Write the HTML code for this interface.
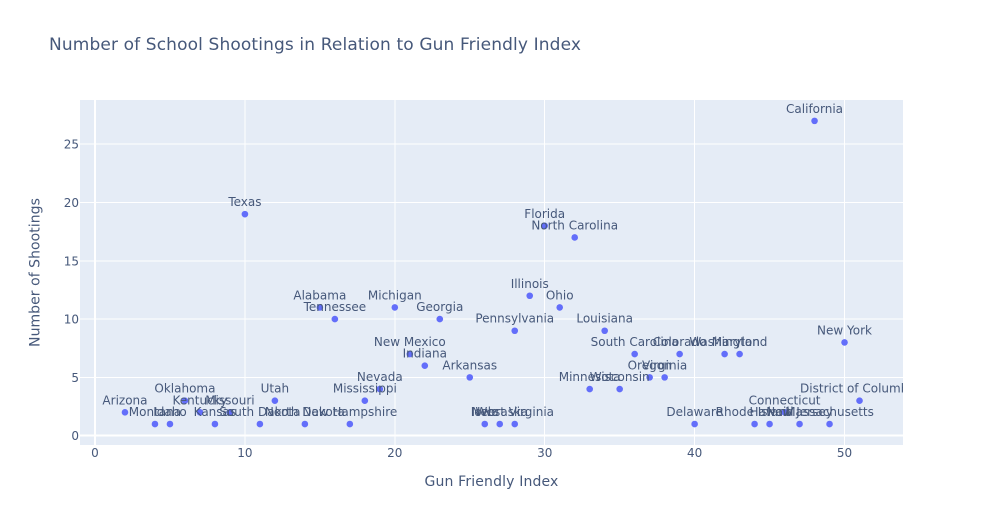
<!DOCTYPE html>
<html>
<head>
<meta charset="utf-8">
<title>Number of School Shootings in Relation to Gun Friendly Index</title>
<style>
html,body{margin:0;padding:0;background:#fff;width:983px;height:525px;overflow:hidden}
svg{display:block;font-family:"DejaVu Sans",Verdana,"Liberation Sans",sans-serif}
</style>
</head>
<body>
<svg id="chart" width="983" height="525" viewBox="0 0 983 525" xmlns="http://www.w3.org/2000/svg">
  <defs><clipPath id="plot-clip"><rect x="80" y="100" width="823" height="345"/></clipPath></defs>
  <rect x="0" y="0" width="983" height="525" fill="#fff"/>
  <rect x="80" y="100" width="823" height="345" fill="#e5ecf6"/>
  <g id="grid" shape-rendering="crispEdges"></g>
  <g id="points" clip-path="url(#plot-clip)"></g>
  <g id="labels" clip-path="url(#plot-clip)"></g>
  <g id="ticks"></g>
  <text x="49" y="50" font-size="17" letter-spacing="0.13" fill="#46587a">Number of School Shootings in Relation to Gun Friendly Index</text>
  <text x="491.5" y="486" font-size="14" letter-spacing="0.15" fill="#46587a" text-anchor="middle">Gun Friendly Index</text>
  <text x="39.5" y="272.5" font-size="14" letter-spacing="0.05" fill="#46587a" text-anchor="middle" transform="rotate(-90 39.5 272.5)">Number of Shootings</text>
</svg>
<script>
const states = ["Arizona","Montana","Idaho","Oklahoma","Kentucky","Kansas","Missouri","Texas","South Dakota","Utah","North Dakota","Alabama","Tennessee","New Hampshire","Mississippi","Nevada","Michigan","New Mexico","Indiana","Georgia","Arkansas","Iowa","Nebraska","West Virginia","Pennsylvania","Illinois","Florida","Ohio","North Carolina","Minnesota","Louisiana","Wisconsin","South Carolina","Oregon","Virginia","Colorado","Delaware","Washington","Maryland","Rhode Island","Hawaii","Connecticut","New Jersey","California","Massachusetts","New York","District of Columbia"];
const gunIndex = [2,4,5,6,7,8,9,10,11,12,14,15,16,17,18,19,20,21,22,23,25,26,27,28,28,29,30,31,32,33,34,35,36,37,38,39,40,42,43,44,45,46,47,48,49,50,51];
const shootings = [2,1,1,3,2,1,2,19,1,3,1,11,10,1,3,4,11,7,6,10,5,1,1,1,9,12,18,11,17,4,9,4,7,5,5,7,1,7,7,1,1,2,1,27,1,8,3];
const xTicks = [0,10,20,30,40,50];
const yTicks = [0,5,10,15,20,25];
const xRange = [-1, 53.9];
const yRange = [-0.8, 28.79];

const NS = "http://www.w3.org/2000/svg";
const textColor = "#46587a";
function xScale(v){ return 80 + (v - xRange[0]) / (xRange[1] - xRange[0]) * 823; }
function yScale(v){ return 445 - (v - yRange[0]) / (yRange[1] - yRange[0]) * 345; }
function make(tag, attrs, parent){
  const el = document.createElementNS(NS, tag);
  for (const k in attrs) el.setAttribute(k, attrs[k]);
  parent.appendChild(el);
  return el;
}
const grid = document.getElementById("grid");
const points = document.getElementById("points");
const labels = document.getElementById("labels");
const ticks = document.getElementById("ticks");

xTicks.forEach(function(t){
  const line = make("line", {x1:xScale(t), x2:xScale(t), y1:100, y2:445, stroke:"#fff", "stroke-width": t === 0 ? 2 : 1}, grid);
  
  
  const label = make("text", {x:xScale(t), y:457, "font-size":12, fill:textColor, "text-anchor":"middle"}, ticks);
  label.textContent = t;
  
  
});
yTicks.forEach(function(t){
  const line = make("line", {x1:80, x2:903, y1:yScale(t), y2:yScale(t), stroke:"#fff", "stroke-width": t === 0 ? 2 : 1}, grid);
  
  
  const label = make("text", {x:79, y:yScale(t) + 4.5, "font-size":12, fill:textColor, "text-anchor":"end"}, ticks);
  label.textContent = t;
  
  
});
states.forEach(function(s, i){
  const dot = make("circle", {cx:xScale(gunIndex[i]), cy:yScale(shootings[i]), r:3.3, fill:"#636efa"}, points);
  
  
  const label = make("text", {x:xScale(gunIndex[i]), y:yScale(shootings[i]) - 8, "font-size":12, fill:textColor, "text-anchor":"middle"}, labels);
  label.textContent = s;
  
  
});
</script>
</body>
</html>
